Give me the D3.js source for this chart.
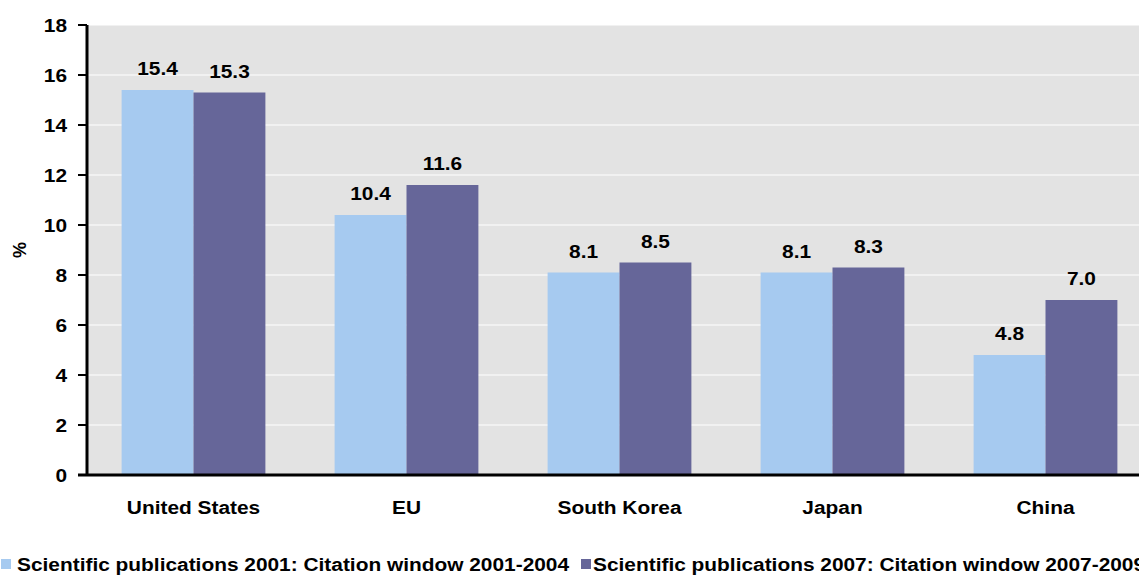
<!DOCTYPE html>
<html>
<head>
<meta charset="utf-8">
<script src="https://cdn.jsdelivr.net/npm/d3@7"></script>
<style>
  html, body { margin: 0; padding: 0; background: #ffffff; overflow: hidden; }
  svg { display: block; font-family: "Liberation Sans", Arial, sans-serif; font-weight: bold; }
</style>
</head>
<body>
<svg id="chart" width="1139" height="576"></svg>
<script>
// Share of highly cited publications (%), by region
const categories = ["United States", "EU", "South Korea", "Japan", "China"];
const seriesNames = [
  "Scientific publications 2001: Citation window 2001-2004",
  "Scientific publications 2007: Citation window 2007-2009"
];
const values2001 = [15.4, 10.4, 8.1, 8.1, 4.8];
const values2007 = [15.3, 11.6, 8.5, 8.3, 7.0];
const yTicks = [0, 2, 4, 6, 8, 10, 12, 14, 16, 18];
const colors = ["#a6caf0", "#666699"];

const FS = 18;      // label font size
const SX = 1.16;    // horizontal text stretch

const svg = d3.select("#chart");
const margin = { left: 87, top: 25, right: -13, bottom: 101 };
const W = 1139, H = 576;
const x0 = margin.left, x1 = W - margin.right;
const yTop = margin.top, yBot = H - margin.bottom;

const x = d3.scaleBand().domain(categories).range([x0, x1]).paddingInner(0.325).paddingOuter(0.1625);
const xs = d3.scaleBand().domain([0, 1]).range([0, x.bandwidth()]);
const y = d3.scaleLinear().domain([0, 18]).range([yBot, yTop]);

// stretched text helper
function label(g, tx, ty, anchor) {
  return g.attr("transform", (d, i) => `translate(${tx(d, i)},${ty(d, i)}) scale(${SX},1)`)
    .attr("text-anchor", anchor).attr("font-size", FS).attr("fill", "#000");
}

// plot background
svg.append("rect").attr("x", x0).attr("y", yTop).attr("width", x1 - x0).attr("height", yBot - yTop).attr("fill", "#e3e3e3");

// gridlines
svg.append("g").selectAll("line").data(yTicks.filter(d => d > 0)).join("line")
  .attr("x1", x0).attr("x2", x1).attr("y1", d => y(d)).attr("y2", d => y(d))
  .attr("stroke", "#ffffff").attr("stroke-width", 1);

// bars
const data = categories.map((c, i) => ({ c, v: [values2001[i], values2007[i]] }));
const groups = svg.append("g").selectAll("g").data(data).join("g")
  .attr("transform", d => `translate(${x(d.c)},0)`);
groups.selectAll("rect").data(d => d.v.map((v, k) => ({ v, k }))).join("rect")
  .attr("x", d => xs(d.k)).attr("width", xs.bandwidth())
  .attr("y", d => y(d.v)).attr("height", d => y(0) - y(d.v))
  .attr("fill", d => colors[d.k]);
label(groups.selectAll("text").data(d => d.v.map((v, k) => ({ v, k }))).join("text"),
  d => xs(d.k) + xs.bandwidth() / 2, d => y(d.v) - 15, "middle")
  .text(d => d.v.toFixed(1));

// y axis ticks and labels
const ya = svg.append("g");
ya.selectAll("line").data(yTicks).join("line")
  .attr("x1", x0 - 9).attr("x2", x0).attr("y1", d => y(d)).attr("y2", d => y(d))
  .attr("stroke", "#000").attr("stroke-width", 2);
label(ya.selectAll("text").data(yTicks).join("text"), () => 67, d => y(d) + 6.5, "end")
  .text(d => d3.format("d")(d));
svg.append("line").attr("x1", x0).attr("x2", x0).attr("y1", yTop).attr("y2", yBot + 1)
  .attr("stroke", "#000").attr("stroke-width", 3);

// x axis
svg.append("line").attr("x1", x0 - 9).attr("x2", x1).attr("y1", yBot).attr("y2", yBot)
  .attr("stroke", "#000").attr("stroke-width", 3);
label(svg.append("g").selectAll("text").data(categories).join("text"),
  d => x(d) + x.bandwidth() / 2, () => yBot + 39, "middle").text(d => d);

// y axis title
svg.append("text").attr("transform", `translate(26,${(yTop + yBot) / 2}) rotate(-90)`)
  .attr("text-anchor", "middle").attr("font-size", FS).attr("fill", "#000").text("%");

// legend
const legendX = [1, 581];
const lg = svg.append("g").selectAll("g").data(seriesNames).join("g")
  .attr("transform", (d, i) => `translate(${legendX[i]},559)`);
lg.append("rect").attr("x", 0).attr("y", 0).attr("width", 10).attr("height", 10).attr("fill", (d, i) => colors[i]);
label(lg.append("text"), (d, i) => (i === 0 ? 16 : 12), () => 12, "start").text(d => d);
</script>
</body>
</html>
